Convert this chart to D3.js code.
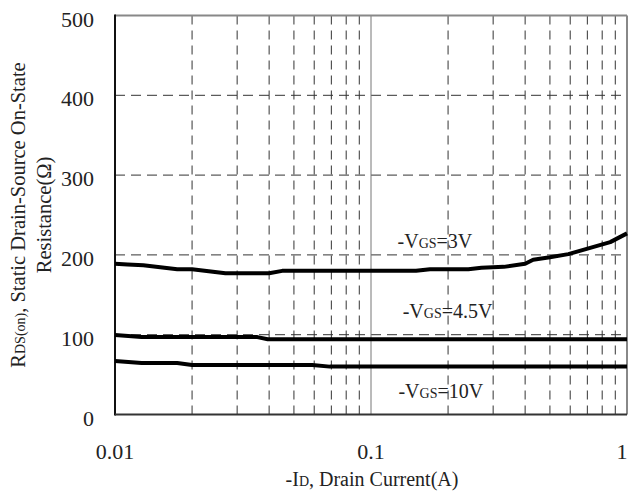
<!DOCTYPE html>
<html lang="en">
<head>
<meta charset="UTF-8">
<title>RDS(on) vs Drain Current</title>
<script src="https://d3js.org/d3.v7.min.js"></script>
<style>
  body { margin: 0; background: #fff; }
  svg text { font-family: "Liberation Serif", "DejaVu Serif", serif; fill: #222; }
</style>
</head>
<body>
<svg id="chart" width="628" height="493"></svg>
<script>
// curve data: drain current (A) and resistance (ohm)
const id3V = [0.01, 0.0112, 0.0129, 0.0175, 0.020, 0.027, 0.040, 0.045, 0.15, 0.17, 0.24, 0.27, 0.33, 0.40, 0.43, 0.50, 0.59, 0.86, 1];
const r3V  = [189, 188, 187, 182, 182, 177, 177, 180, 180, 182, 182, 184, 185, 189, 194, 197, 201, 216, 227];
const id45V = [0.01, 0.0127, 0.036, 0.0395, 1];
const r45V  = [99.5, 97, 97, 94.2, 94.2];
const id10V = [0.01, 0.0127, 0.0175, 0.020, 0.059, 0.069, 1];
const r10V  = [67, 64.5, 64.5, 62, 62, 60, 60];

const yTicks = [0, 100, 200, 300, 400, 500];
const xTicks = [0.01, 0.1, 1];
const xTickLabels = ["0.01", "0.1", "1"];
const xMinor = [0.02, 0.03, 0.04, 0.05, 0.06, 0.07, 0.08, 0.09,
                0.2, 0.3, 0.4, 0.5, 0.6, 0.7, 0.8, 0.9];
const yGrid = [100, 200, 300, 400];

// label anchor points (start of text) in data units
const curveLabels = [
  { x: 0.127, y: 208.5, sub: "GS", tail: "=3V" },
  { x: 0.133, y: 121,   sub: "GS", tail: "=4.5V" },
  { x: 0.128, y: 20.7,  sub: "GS", tail: "=10V" }
];

const svg = d3.select("#chart");
const pLeft = 115, pRight = 627, pTop = 15.5, pBottom = 414.5;
const serif = "'Liberation Serif', 'DejaVu Serif', serif";

const x = d3.scaleLog().domain([0.01, 1]).range([pLeft, pRight]);
const y = d3.scaleLinear().domain([0, 500]).range([pBottom, pTop]);

// grid
const grid = svg.append("g");
grid.selectAll(".vg").data(xMinor).enter().append("line")
  .attr("x1", d => x(d)).attr("x2", d => x(d))
  .attr("y1", pTop).attr("y2", pBottom)
  .attr("stroke", "#333").attr("stroke-width", 1)
  .attr("stroke-dasharray", "9,6");
grid.selectAll(".hg").data(yGrid).enter().append("line")
  .attr("x1", pLeft).attr("x2", pRight)
  .attr("y1", d => y(d)).attr("y2", d => y(d))
  .attr("stroke", "#333").attr("stroke-width", 1)
  .attr("stroke-dasharray", "10,6");
// solid decade line
grid.append("line")
  .attr("x1", x(0.1)).attr("x2", x(0.1))
  .attr("y1", pTop).attr("y2", pBottom)
  .attr("stroke", "#777").attr("stroke-width", 1);

// frame
svg.append("line").attr("x1", pLeft).attr("x2", pRight).attr("y1", pTop).attr("y2", pTop)
  .attr("stroke", "#888").attr("stroke-width", 2);
svg.append("line").attr("x1", pRight).attr("x2", pRight).attr("y1", pTop).attr("y2", pBottom)
  .attr("stroke", "#888").attr("stroke-width", 2);
svg.append("line").attr("x1", pLeft).attr("x2", pLeft).attr("y1", pTop - 1).attr("y2", pBottom + 1)
  .attr("stroke", "#111").attr("stroke-width", 2);
svg.append("line").attr("x1", pLeft).attr("x2", pRight).attr("y1", pBottom).attr("y2", pBottom)
  .attr("stroke", "#333").attr("stroke-width", 2);

// curves
const line = d3.line().x(d => x(d[0])).y(d => y(d[1]));
[[id3V, r3V], [id45V, r45V], [id10V, r10V]].forEach(([xs, ys]) => {
  svg.append("path")
    .datum(xs.map((v, i) => [v, ys[i]]))
    .attr("d", line)
    .attr("fill", "none")
    .attr("stroke", "#000")
    .attr("stroke-width", 4)
    .attr("stroke-linejoin", "round");
});

// curve labels
curveLabels.forEach(l => {
  const t = svg.append("text")
    .attr("x", x(l.x)).attr("y", y(l.y))
    .attr("font-family", serif).attr("font-size", 20);
  t.append("tspan").text("-V");
  t.append("tspan").attr("font-size", 14).text(l.sub);
  t.append("tspan").text(l.tail);
});

// y tick labels
svg.selectAll(".yt").data(yTicks).enter().append("text")
  .attr("x", 94).attr("y", d => y(d) + 11)
  .attr("text-anchor", "end").attr("font-family", serif).attr("font-size", 22)
  .text(d => d);

// x tick labels (last one pulled in so it stays on the page)
svg.selectAll(".xt").data(xTicks).enter().append("text")
  .attr("x", (d, i) => i === xTicks.length - 1 ? x(d) - 5 : x(d)).attr("y", 459)
  .attr("text-anchor", "middle").attr("font-family", serif).attr("font-size", 22)
  .text((d, i) => xTickLabels[i]);

// x title
const xt = svg.append("text")
  .attr("x", 372).attr("y", 486)
  .attr("text-anchor", "middle").attr("font-family", serif).attr("font-size", 20);
xt.append("tspan").text("-I");
xt.append("tspan").attr("font-size", 14).text("D");
xt.append("tspan").text(", Drain Current(A)");

// y title, two rotated lines
const cy = (pTop + pBottom) / 2;
const yt1 = svg.append("text")
  .attr("transform", `translate(25,${cy}) rotate(-90)`)
  .attr("text-anchor", "middle").attr("font-family", serif).attr("font-size", 20.5);
yt1.append("tspan").text("R");
yt1.append("tspan").attr("font-size", 14).text("DS(on)");
yt1.append("tspan").text(", Static Drain-Source On-State");
svg.append("text")
  .attr("transform", `translate(51,${cy}) rotate(-90)`)
  .attr("text-anchor", "middle").attr("font-family", serif).attr("font-size", 20.5)
  .text("Resistance(Ω)");
</script>
</body>
</html>
